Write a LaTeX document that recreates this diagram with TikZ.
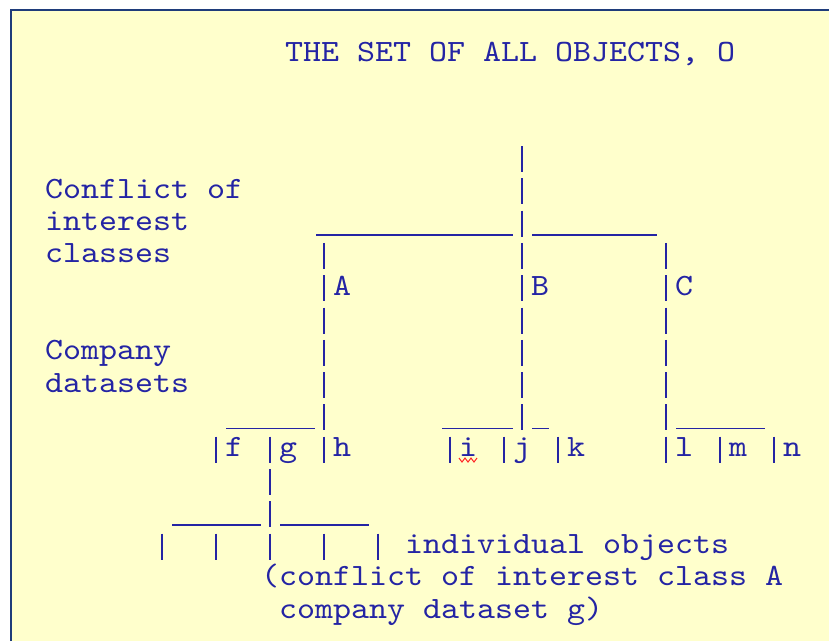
\documentclass[tikz,border=0pt]{standalone}
\usepackage{fontspec}
\newfontfamily\courfont[FakeStretch=1.106]{lmmono10-regular.otf}
\definecolor{ink}{HTML}{2424A4}
\definecolor{paper}{HTML}{FFFFCC}
\definecolor{framecol}{HTML}{1F3C7A}
\tikzset{
  ln/.style={draw=ink, line width=1.8pt},
  txt/.style={inner sep=0pt, anchor=base west, text=ink, font={\courfont\fontsize{31}{31}\selectfont}},
  squig/.style={draw=red!85!white, line width=1pt}
}
% vertical bar in column #1, row #2
\newcommand{\mybar}[2]{\draw[ln] ({54+18*#1},{146+32.3*#2}) -- ++(0,26);}
% underscore run from column #1 to column #2 in row #3
\newcommand{\myrule}[3]{\draw[ln] ({46+18*#1},{170+32.3*#3}) -- ({45+18*(#2+1)},{170+32.3*#3});}
% text node named #1 at column #2, row #3
\newcommand{\mytext}[4]{\node[txt] (#1) at ({45+18*#2},{166+32.3*#3}) {#4};}
\begin{document}
\begin{tikzpicture}[x=1pt,y=-1pt]
\useasboundingbox (0,0) rectangle (829,641);
\fill[white] (0,0) rectangle (829,641);
\fill[paper] (11,10) rectangle (829,641);
\draw[framecol, line width=2pt] (11,641) -- (11,10) -- (829,10);

% title
\node[txt] (title) at (285,61) {THE SET OF ALL OBJECTS, O};

% left labels
\mytext{lc1}{0}{1}{Conflict of}
\mytext{lc2}{0}{2}{interest}
\mytext{lc3}{0}{3}{classes}
\mytext{ld1}{0}{6}{Company}
\mytext{ld2}{0}{7}{datasets}

% top stem (B column)
\foreach \r in {0,...,8} {\mybar{26}{\r}}
% class verticals A and C
\foreach \r in {3,...,9} {\mybar{15}{\r}\mybar{34}{\r}}
% class level rules
\myrule{15}{25}{2}
\myrule{27}{33}{2}
% class labels
\mytext{A}{16}{4}{A}
\mytext{B}{27}{4}{B}
\mytext{C}{35}{4}{C}

% company level rules
\myrule{10}{14}{8}
\myrule{22}{25}{8}
\myrule{27}{27}{8}
\myrule{35}{39}{8}

% company datasets
\foreach \c in {9,12,22,25,28,37,40} {\mybar{\c}{9}}
\mytext{f}{10}{9}{f}
\mytext{g}{13}{9}{g}
\mytext{h}{16}{9}{h}
\mytext{i}{23}{9}{i}
\mytext{j}{26}{9}{j}
\mytext{k}{29}{9}{k}
\mytext{l}{35}{9}{l}
\mytext{m}{38}{9}{m}
\mytext{n}{41}{9}{n}
\draw[squig] (459,458) -- (462,462) -- (465,458) -- (468,462) -- (471,458) -- (474,462) -- (477,458);

% objects of dataset g
\mybar{12}{10}
\mybar{12}{11}
\myrule{7}{11}{11}
\myrule{13}{17}{11}
\foreach \c in {6,9,12,15,18} {\mybar{\c}{12}}
\mytext{obj}{20}{12}{individual objects}
\mytext{note1}{12}{13}{(conflict of interest class A}
\mytext{note2}{13}{14}{company dataset g)}
\end{tikzpicture}
\end{document}
